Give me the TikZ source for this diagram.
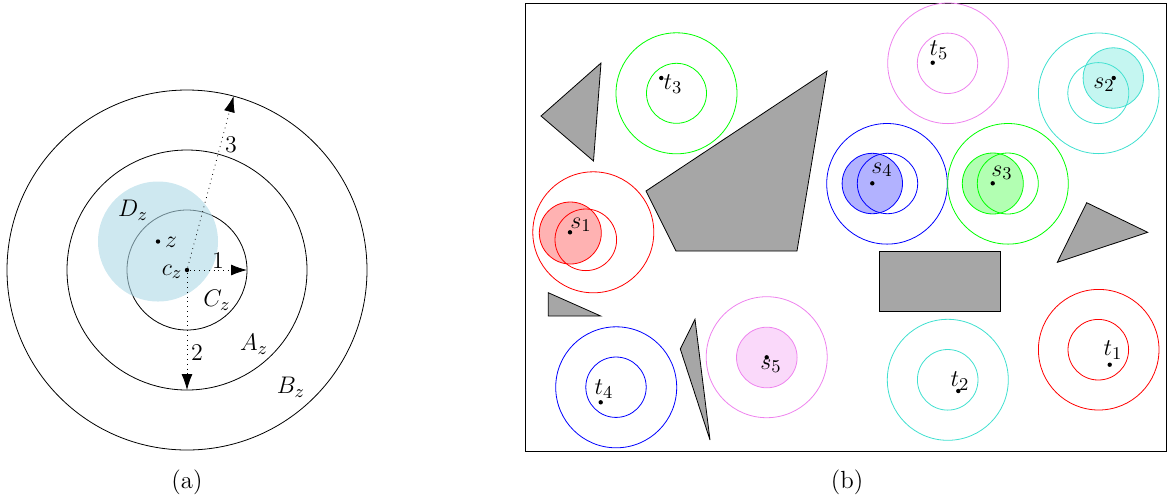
\documentclass[tikz,border=0pt]{standalone}
\usetikzlibrary{arrows.meta}
\definecolor{obst}{RGB}{166,166,166}
\definecolor{ldblue}{RGB}{173,216,230}
\definecolor{myviolet}{RGB}{238,130,238}
\definecolor{myturq}{RGB}{64,224,208}
\definecolor{mygreen}{RGB}{0,255,0}
\begin{document}
\begin{tikzpicture}[x=0.5pt,y=-0.5pt,
  every node/.style={font=\fontsize{12.4}{15}\selectfont},
  obstacle/.style={draw=black,fill=obst,line join=miter},
  ring/.style={draw=#1},
  disk/.style={draw=#1,fill=#1,fill opacity=0.3},
  pt/.style={circle,fill=black,inner sep=0pt,minimum size=2.2pt},
  lab/.style={inner sep=0pt},
  darrow/.style={dotted,-{Latex[length=8pt,width=5.5pt]}}]
\useasboundingbox (0,0) rectangle (1168,495);
% ---------------- panel (a)
\draw (187,270) circle (60);
\draw (187,270) circle (120);
\draw (187,270) circle (180);
\fill[ldblue,opacity=0.6] (158,241.5) circle (60);
\node[pt] (cz) at (187,270) {};
\node[pt] (z) at (158,241.5) {};
\coordinate (e1) at (247,270);
\coordinate (e2) at (187,390);
\coordinate (e3) at (233.6,96.1);
\draw[darrow] (cz) -- (e1);
\draw[darrow] (cz) -- (e2);
\draw[darrow] (cz) -- (e3);
\node[lab] (lz) at (171,242) {$z$};
\node[lab] (lcz) at (172,272) {$c_z$};
\node[lab] (l1) at (218,261) {$1$};
\node[lab] (l2) at (197,353) {$2$};
\node[lab] (l3) at (231,145) {$3$};
\node[lab] (lDz) at (133,210) {$D_z$};
\node[lab] (lCz) at (217,300) {$C_z$};
\node[lab] (lAz) at (254,344) {$A_z$};
\node[lab] (lBz) at (291,387) {$B_z$};
\node[lab] (capa) at (187,482) {(a)};
% ---------------- panel (b)
\draw (525,3) rectangle (1166,451);
% obstacles
\draw[obstacle] (541,116) -- (601,63) -- (593.5,161) -- cycle;
\draw[obstacle] (646,191) -- (827,71) -- (797,251) -- (676,251) -- cycle;
\draw[obstacle] (548.3,292.7) -- (548.3,316) -- (600.7,316) -- cycle;
\draw[obstacle] (695,319.3) -- (680.3,349) -- (710,440) -- cycle;
\draw[obstacle] (879.3,251.7) rectangle (1000.3,311.7);
\draw[obstacle] (1086.7,202.7) -- (1147.7,232.3) -- (1057.3,262.3) -- cycle;
% t3 green
\draw[ring=mygreen] (676.5,93.3) circle (60.5);
\draw[ring=mygreen] (676.5,93.3) circle (30);
% t5 violet
\draw[ring=myviolet] (948,63.3) circle (60.3);
\draw[ring=myviolet] (947.5,63.3) circle (30.2);
% s2 turquoise
\draw[ring=myturq] (1098.7,93.3) circle (60.3);
\draw[ring=myturq] (1098.3,93.1) circle (30.5);
\draw[disk=myturq] (1113.3,78) circle (30.2);
% s4 blue
\draw[ring=blue] (887,183.8) circle (60.3);
\draw[ring=blue] (887.5,183.5) circle (30.2);
\draw[disk=blue] (872.3,183.5) circle (30.2);
% s3 green
\draw[ring=mygreen] (1008,183.8) circle (60.3);
\draw[ring=mygreen] (1007.8,183.5) circle (30.5);
\draw[disk=mygreen] (992.8,183.5) circle (30.5);
% s1 red
\draw[ring=red] (593.3,232.3) circle (60.5);
\draw[ring=red] (585.8,239.8) circle (30.8);
\draw[disk=red] (570.3,233) circle (31);
% t4 blue
\draw[ring=blue] (616.2,387.3) circle (60.5);
\draw[ring=blue] (616,387.2) circle (30.2);
% s5 violet
\draw[ring=myviolet] (766.7,357.2) circle (60.5);
\draw[disk=myviolet] (766.8,357.5) circle (30.3);
% t2 turquoise
\draw[ring=myturq] (947.8,379.8) circle (60.5);
\draw[ring=myturq] (947.7,379.8) circle (30.3);
% t1 red
\draw[ring=red] (1098.7,349.7) circle (60.3);
\draw[ring=red] (1098.3,349.7) circle (30.3);
% points and labels
\node[pt] (t3) at (661.3,78) {};
\node[lab] (lt3) at (673,84) {$t_3$};
\node[pt] (t5) at (932.7,62.7) {};
\node[lab] (lt5) at (939,50) {$t_5$};
\node[pt] (s2) at (1113.7,78) {};
\node[lab] (ls2) at (1104,85) {$s_2$};
\node[pt] (s4) at (872.3,183.3) {};
\node[lab] (ls4) at (882,170) {$s_4$};
\node[pt] (s3) at (992.7,183.3) {};
\node[lab] (ls3) at (1002,173) {$s_3$};
\node[pt] (s1) at (570,232.3) {};
\node[lab] (ls1) at (581,225) {$s_1$};
\node[pt] (t4) at (600.7,402.3) {};
\node[lab] (lt4) at (604,389) {$t_4$};
\node[pt] (s5) at (766.7,357.3) {};
\node[lab] (ls5) at (771,366) {$s_5$};
\node[pt] (t2) at (958.3,391) {};
\node[lab] (lt2) at (960,381) {$t_2$};
\node[pt] (t1) at (1109.7,364.7) {};
\node[lab] (lt1) at (1113,350) {$t_1$};
\node[lab] (capb) at (847,482) {(b)};
\end{tikzpicture}
\end{document}
